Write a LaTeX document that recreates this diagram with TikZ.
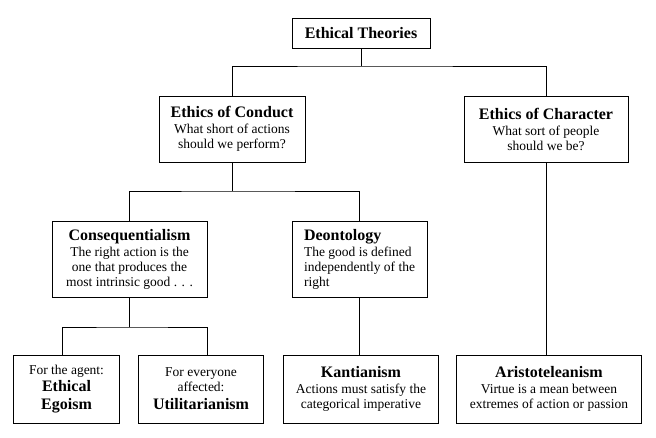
\documentclass[tikz,border=0pt]{standalone}
\usepackage{fontspec}
\setmainfont{Liberation Serif}
\usepackage{tikz}
\usetikzlibrary{positioning}

\newcommand{\boxtitle}[1]{{\fontsize{16}{19}\selectfont\bfseries #1}}

\begin{document}
\begin{tikzpicture}[x=1pt, y=-1pt, line width=1pt,
    theorybox/.style={draw, rectangle, align=center, inner sep=4pt,
        font=\fontsize{13.5}{15}\selectfont}]
        \useasboundingbox (0,0) rectangle (656,437);

        % Nodes
        \node (top) [theorybox, minimum width=138pt, minimum height=30pt] at (361,33) {\boxtitle{Ethical Theories}};

        \node (conduct) [theorybox, minimum width=146pt, minimum height=66pt] at (232,129) {\boxtitle{Ethics of Conduct}\\[1pt] What short of actions\\ should we perform?};
        \node (character) [theorybox, minimum width=164pt, minimum height=66pt] at (546,129) {\boxtitle{Ethics of Character}\\[1pt] What sort of people\\ should we be?};

        \node (cons) [theorybox, minimum width=155pt, minimum height=76pt] at (129.5,259) {\boxtitle{Consequentialism}\\[1pt] The right action is the\\ one that produces the\\ most intrinsic good . . .};
        \node (deon) [theorybox, align=left, minimum width=135pt, minimum height=76pt] at (359.5,259) {\boxtitle{Deontology}\\[1pt] The good is defined\\ independently of the\\ right};

        \node (egoism) [theorybox, minimum width=106pt, minimum height=68pt] at (66.5,389) {For the agent:\\[2pt] \boxtitle{Ethical}\\[3pt] \boxtitle{Egoism}};
        \node (util) [theorybox, right=18pt of egoism, minimum width=125pt, minimum height=68pt] {For everyone\\ affected:\\[3pt] \boxtitle{Utilitarianism}};
        \node (kant) [theorybox, right=19pt of util, minimum width=155pt, minimum height=68pt] {\boxtitle{Kantianism}\\[1pt] Actions must satisfy the\\ categorical imperative};
        \node (aristo) [theorybox, right=17pt of kant, minimum width=185pt, minimum height=68pt] {\boxtitle{Aristoteleanism}\\[1pt] Virtue is a mean between\\ extremes of action or passion};

        % Lines
        \coordinate (j1) at (361,66);
        \draw (top) -- (j1);
        \draw (conduct) |- (j1) -| (character);

        \coordinate (j2) at (232,191);
        \draw (conduct) -- (j2);
        \draw (cons) |- (j2) -| (deon);

        \coordinate (j3) at (129.5,327);
        \draw (cons) -- (j3);
        \draw ([xshift=-4pt]egoism.north) |- (j3) -| ([xshift=6pt]util.north);

        \draw (deon.south) -- (deon.south |- kant.north);
        \draw (character.south) -- (character.south |- aristo.north);

    \end{tikzpicture}
\end{document}
